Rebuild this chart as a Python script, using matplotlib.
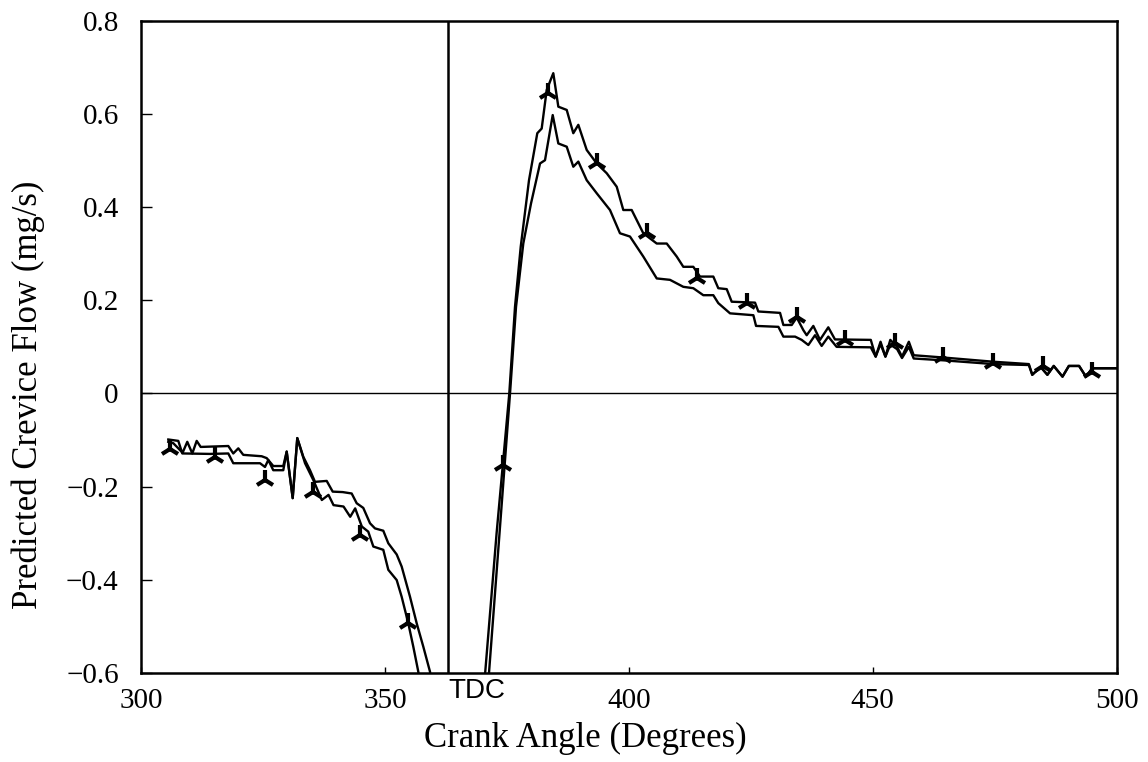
import numpy as np
import matplotlib
matplotlib.use('Agg')
import matplotlib.pyplot as plt

plt.rcParams['font.family'] = ['Liberation Serif', 'DejaVu Serif']

# --- data ---
tdc = 363.0

# before TDC, the upper (less negative) trace
left_x_up = [305.6, 307.65, 308.47, 309.49, 310.52, 311.42, 312.24, 317.9, 318.92, 319.95,
             320.97, 324.74, 325.77, 327.12, 329.17, 329.87, 331.1, 332.04, 333.27, 334.65,
             335.67, 338.07, 339.3, 341.35, 343.19, 344.22, 345.57, 346.95, 347.97, 349.67,
             350.7, 352.42, 353.44, 355.15, 356.52, 357.87, 359.25, 359.5]
left_y_up = [-0.099, -0.102, -0.129, -0.104, -0.129, -0.102, -0.115, -0.113, -0.129, -0.118,
             -0.132, -0.135, -0.139, -0.156, -0.156, -0.125, -0.225, -0.096, -0.136, -0.165,
             -0.190, -0.188, -0.211, -0.212, -0.215, -0.236, -0.246, -0.279, -0.290, -0.295,
             -0.322, -0.346, -0.372, -0.437, -0.494, -0.544, -0.598, -0.62]

# before TDC, the lower trace
left_x_lo = [305.6, 306.63, 308.68, 314.15, 317.9, 318.92, 324.4, 325.42, 326.1, 327.12,
             329.17, 329.87, 331.1, 332.04, 333.63, 335.32, 337.07, 338.44, 339.47, 341.52,
             342.89, 343.91, 345.27, 346.59, 347.63, 349.67, 350.7, 352.42, 353.44, 354.8,
             355.82, 356.85, 357.1]
left_y_lo = [-0.104, -0.107, -0.129, -0.130, -0.129, -0.150, -0.150, -0.158, -0.143, -0.165,
             -0.165, -0.125, -0.225, -0.096, -0.150, -0.186, -0.229, -0.218, -0.240, -0.243,
             -0.265, -0.247, -0.286, -0.297, -0.329, -0.336, -0.379, -0.401, -0.437, -0.494,
             -0.544, -0.598, -0.62]

# after TDC, the upper trace (higher peak)
right_x_up = [370.4, 372.9, 375.5, 376.67, 377.84, 379.54, 381.24, 382.14, 383.17, 384.52,
              385.55, 387.27, 388.62, 389.65, 391.37, 393.42, 395.47, 397.52, 398.87, 400.59,
              402.97, 405.72, 407.77, 409.82, 411.17, 413.22, 414.59, 417.32, 418.34, 420.07,
              421.09, 425.87, 426.55, 431.0, 431.68, 433.39, 434.42, 435.77, 436.46, 437.82,
              439.19, 440.89, 442.26, 449.6, 450.6, 451.6, 452.6, 453.6, 455.0, 456.0,
              457.4, 458.4, 464.6, 474.8, 482.0, 482.7, 484.4, 485.8, 487.1, 488.9,
              490.2, 492.3, 493.7, 495.0, 500.0]
right_y_up = [-0.62, -0.30, 0.000, 0.186, 0.315, 0.458, 0.559, 0.569, 0.652, 0.688,
              0.616, 0.609, 0.559, 0.577, 0.523, 0.494, 0.473, 0.444, 0.394, 0.394,
              0.344, 0.322, 0.322, 0.294, 0.272, 0.272, 0.251, 0.251, 0.226, 0.224,
              0.197, 0.195, 0.176, 0.173, 0.147, 0.147, 0.163, 0.136, 0.125, 0.145,
              0.115, 0.142, 0.116, 0.115, 0.079, 0.111, 0.079, 0.115, 0.100, 0.079,
              0.111, 0.082, 0.077, 0.068, 0.063, 0.040, 0.057, 0.040, 0.059, 0.036,
              0.059, 0.059, 0.036, 0.054, 0.054]

# after TDC, the lower trace
right_x_lo = [371.2, 373.5, 375.65, 376.88, 378.37, 379.95, 381.8, 382.82, 384.4,
              385.55, 387.27, 388.62, 389.65, 391.37, 393.42, 396.14, 398.19, 400.24,
              402.97, 405.72, 408.44, 411.17, 413.22, 415.27, 417.32, 418.34, 420.75,
              425.53, 426.08, 430.66, 431.68, 434.08, 435.43, 436.8, 438.17, 439.53,
              440.89, 442.6, 449.6, 450.6, 451.6, 452.6, 453.6, 455.0, 456.0, 457.4,
              458.4, 464.6, 474.8, 482.0, 482.7, 484.4, 485.8, 487.1, 488.9, 490.2,
              492.3, 493.7, 495.0, 500.0]
right_y_lo = [-0.62, -0.30, 0.000, 0.186, 0.322, 0.408, 0.494, 0.501, 0.598,
              0.537, 0.530, 0.487, 0.498, 0.458, 0.430, 0.394, 0.344, 0.337,
              0.294, 0.247, 0.244, 0.229, 0.226, 0.211, 0.211, 0.194, 0.172,
              0.168, 0.145, 0.143, 0.122, 0.122, 0.115, 0.104, 0.125, 0.102,
              0.122, 0.100, 0.099, 0.079, 0.106, 0.079, 0.105, 0.095, 0.076, 0.100,
              0.075, 0.071, 0.063, 0.061, 0.040, 0.057, 0.040, 0.059, 0.036, 0.059,
              0.059, 0.036, 0.054, 0.054]

# tri markers sitting on the traces, roughly every 10 degrees
mark_x = [305.95, 315.17, 325.42, 335.32, 344.9, 354.8, 374.2, 383.5, 393.42, 403.67,
          413.92, 424.17, 434.42, 444.32, 454.57, 464.47, 474.72, 484.97, 494.88]
mark_y = [-0.120, -0.137, -0.186, -0.211, -0.304, -0.493, -0.154, 0.645, 0.494, 0.344,
          0.247, 0.194, 0.165, 0.115, 0.108, 0.078, 0.066, 0.059, 0.047]

x_ticks = [300, 350, 400, 450, 500]
y_ticks = [-0.6, -0.4, -0.2, 0, 0.2, 0.4, 0.6, 0.8]
y_labels = ['\u22120.6', '\u22120.4', '\u22120.2', '0', '0.2', '0.4', '0.6', '0.8']

fig = plt.figure(figsize=(11.48, 7.62), dpi=100)
ax = fig.add_axes([0.1228, 0.1172, 0.8499, 0.8552])

lw = 1.7
ax.plot(left_x_up, left_y_up, color='black', lw=lw)
ax.plot(left_x_lo, left_y_lo, color='black', lw=lw)
ax.plot(right_x_up, right_y_up, color='black', lw=lw)
ax.plot(right_x_lo, right_y_lo, color='black', lw=lw)
ax.plot(mark_x, mark_y, ls='none', marker='2', ms=14, mew=3.0, color='black')

ax.axhline(0, color='black', lw=1.0)
ax.axvline(tdc, color='black', lw=1.8)
ax.annotate('TDC', xy=(tdc, -0.6), xytext=(0, -4), textcoords='offset points',
            ha='left', va='top', fontsize=20, family=['Liberation Sans', 'DejaVu Sans'])

ax.set_xlim(300, 500)
ax.set_ylim(-0.6, 0.8)
ax.set_xticks(x_ticks)
ax.set_yticks(y_ticks)
ax.set_yticklabels(y_labels)
ax.tick_params(axis='both', direction='in', labelsize=21, top=False, right=False,
               width=1.0, color='black')
ax.tick_params(axis='x', length=4, pad=11)
ax.tick_params(axis='y', length=8, pad=16)
for s in ax.spines.values():
    s.set_linewidth(1.8)

ax.set_xlabel('Crank Angle (Degrees)', fontsize=25, labelpad=6)
ax.xaxis.set_label_coords(0.455, -0.075)
ax.set_ylabel('Predicted Crevice Flow (mg/s)', fontsize=25)
ax.yaxis.set_label_coords(-0.098, 0.426)

fig.savefig('out.png', dpi=100)
